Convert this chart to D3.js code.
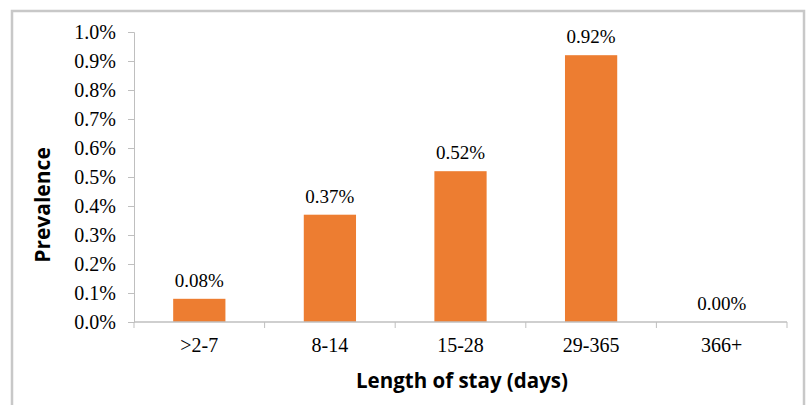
<!DOCTYPE html>
<html>
<head>
<meta charset="utf-8">
<script src="https://cdn.jsdelivr.net/npm/d3@7"></script>
<style>
  html, body { margin: 0; padding: 0; background: #ffffff; }
  svg { display: block; }
</style>
</head>
<body>
<div id="chart"></div>
<script>
const categories = [">2-7", "8-14", "15-28", "29-365", "366+"];
const prevalence = [0.0008, 0.0037, 0.0052, 0.0092, 0.0000];
const valueLabels = ["0.08%", "0.37%", "0.52%", "0.92%", "0.00%"];
const yTicks = [0, 0.001, 0.002, 0.003, 0.004, 0.005, 0.006, 0.007, 0.008, 0.009, 0.010];
const yTitle = "Prevalence";
const xTitle = "Length of stay (days)";

const W = 811, H = 405;
const plot = { left: 134, right: 787, top: 32, bottom: 322 };
const SERIF = "Liberation Serif";
const SANS = "Open Sans";

const svg = d3.select("#chart").append("svg")
  .attr("width", W).attr("height", H);

svg.append("rect")
  .attr("x", 12).attr("y", 11)
  .attr("width", 792).attr("height", 420)
  .attr("fill", "#ffffff")
  .attr("stroke", "#c8c8c8")
  .attr("stroke-width", 2.5);

const x = d3.scaleBand().domain(categories)
  .range([plot.left, plot.right]).paddingInner(0.6).paddingOuter(0.3);
const xb = d3.scaleBand().domain(categories).range([plot.left, plot.right]);
const y = d3.scaleLinear().domain([0, 0.01]).range([plot.bottom, plot.top]);

const axisColor = "#bfbfbf";

// Y axis
const yAxis = svg.append("g")
  .attr("transform", `translate(${plot.left},0)`)
  .call(d3.axisLeft(y).tickValues(yTicks).tickSize(6).tickPadding(12)
    .tickFormat(d3.format(".1%")));
yAxis.selectAll("path, line").attr("stroke", axisColor);
yAxis.selectAll("text")
  .style("font-family", SERIF)
  .style("font-size", "20px").attr("fill", "#000");

// Bars
svg.append("g").selectAll("rect").data(categories).join("rect")
  .attr("x", d => x(d))
  .attr("width", x.bandwidth())
  .attr("y", (d, i) => y(prevalence[i]))
  .attr("height", (d, i) => y(0) - y(prevalence[i]))
  .attr("fill", "#ED7D31");

// X axis with ticks at category boundaries
const xAxisG = svg.append("g").attr("transform", `translate(0,${plot.bottom})`);
xAxisG.append("line")
  .attr("x1", plot.left).attr("x2", plot.right)
  .attr("stroke", axisColor).attr("stroke-width", 1.5);
const bounds = categories.map(c => xb(c)).concat([xb(categories[categories.length - 1]) + xb.bandwidth()]);
xAxisG.selectAll("line.tk").data(bounds).join("line")
  .attr("class", "tk")
  .attr("x1", d => d).attr("x2", d => d)
  .attr("y1", 0).attr("y2", 6)
  .attr("stroke", axisColor);
xAxisG.selectAll("text").data(categories).join("text")
  .attr("x", d => xb(d) + xb.bandwidth() / 2)
  .attr("y", 30)
  .attr("text-anchor", "middle")
  .style("font-family", SERIF)
  .style("font-size", "20px").attr("fill", "#000")
  .text(d => d);

// Value labels
svg.append("g").selectAll("text").data(categories).join("text")
  .attr("x", d => x(d) + x.bandwidth() / 2)
  .attr("y", (d, i) => y(prevalence[i]) - 12)
  .attr("text-anchor", "middle")
  .style("font-family", SERIF)
  .style("font-size", "19px").attr("fill", "#000")
  .text((d, i) => valueLabels[i]);

// Axis titles
svg.append("text")
  .attr("transform", `translate(50,${205}) rotate(-90)`)
  .attr("text-anchor", "middle")
  .style("font-family", SANS).style("font-weight", "bold")
  .style("font-size", "21px").attr("fill", "#000")
  .text(yTitle);

svg.append("text")
  .attr("x", 462).attr("y", 388)
  .attr("text-anchor", "middle")
  .style("font-family", SANS).style("font-weight", "bold")
  .style("font-size", "20.5px").attr("fill", "#000")
  .text(xTitle);
</script>
</body>
</html>
